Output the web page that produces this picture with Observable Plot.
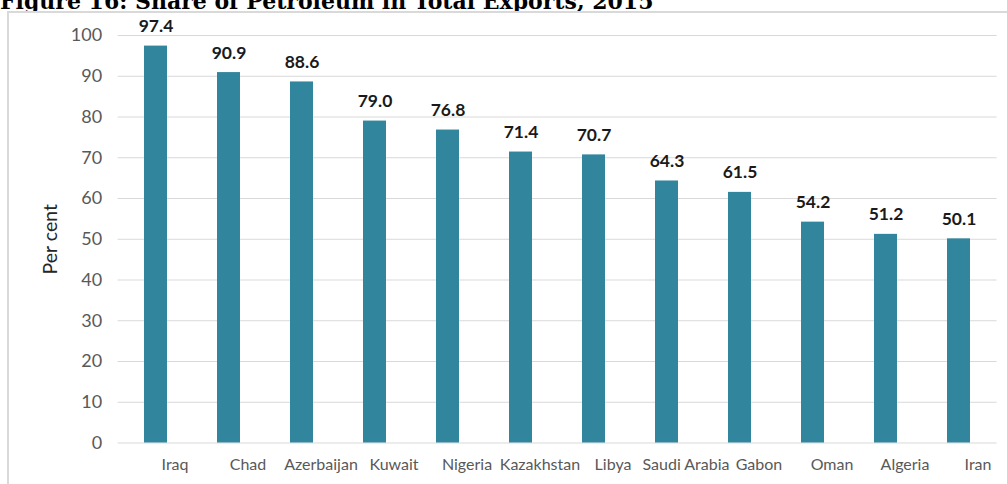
<!DOCTYPE html>
<html>
<head>
<meta charset="utf-8">
<script src="https://cdn.jsdelivr.net/npm/d3@7"></script>
<script src="https://cdn.jsdelivr.net/npm/@observablehq/plot@0.6"></script>
<style>
  html, body { margin: 0; padding: 0; background: #fff; overflow: hidden; width: 1007px; height: 484px; }
  #title { position: absolute; left: 0; top: -10.5px; height: 22px; margin: 0; white-space: nowrap;
    font-family: "DejaVu Serif", serif; font-weight: bold; font-size: 22px; line-height: 22px; color: #000; }
  #titleclip { position: absolute; left: 0; top: 0; width: 1007px; height: 11px; overflow: hidden; }
  #frame { position: absolute; left: 7px; top: 11px; width: 1010px; height: 490px;
    border-left: 2px solid #d9d9d9; border-top: 2px solid #d9d9d9; }
  #chart { position: absolute; left: 0; top: 0; }
</style>
</head>
<body>
<div id="titleclip"><div id="title">Figure 16: Share of Petroleum in Total Exports, 2015</div></div>
<div id="frame"><div id="chart"></div></div>
<script>
const countries = ["Iraq", "Chad", "Azerbaijan", "Kuwait", "Nigeria", "Kazakhstan", "Libya", "Saudi Arabia", "Gabon", "Oman", "Algeria", "Iran"];
const shares = [97.4, 90.9, 88.6, 79.0, 76.8, 71.4, 70.7, 64.3, 61.5, 54.2, 51.2, 50.1];
const yTicks = [0, 10, 20, 30, 40, 50, 60, 70, 80, 90, 100];
const yLabel = "Per cent";

const data = countries.map((c, i) => ({country: c, value: shares[i]}));
const font = "Lato, 'Open Sans', sans-serif";

const chart = Plot.plot({
  width: 998,
  height: 471,
  marginTop: 22,
  marginBottom: 41.5,
  marginLeft: 108.6,
  marginRight: 10.4,
  style: {fontFamily: font, background: "#fff"},
  x: {domain: countries, paddingInner: 0.686, paddingOuter: 0.343, label: null},
  y: {domain: [0, 100], label: null},
  marks: [
    Plot.ruleY(yTicks, {stroke: "#d9d9d9", strokeWidth: 1}),
    Plot.barY(data, {x: "country", y: "value", fill: "#31859C"}),
    Plot.text(data, {x: "country", y: "value", text: d => d.value.toFixed(1), lineAnchor: "bottom", dy: -14,
      fontWeight: "bold", fontSize: 17.5, fill: "#1a1a1a"}),
    Plot.axisY({ticks: yTicks, tickSize: 0, tickPadding: 16, fontSize: 18, color: "#595959", label: null}),
    Plot.axisX({tickSize: 0, tickPadding: 16, fontSize: 16, color: "#595959", dx: 19, label: null}),
    Plot.text([yLabel], {frameAnchor: "left", text: d => d, rotate: -90, dx: -67, textAnchor: "middle", fontSize: 19.5, fill: "#262626"})
  ]
});
document.getElementById("chart").appendChild(chart);
</script>
</body>
</html>
